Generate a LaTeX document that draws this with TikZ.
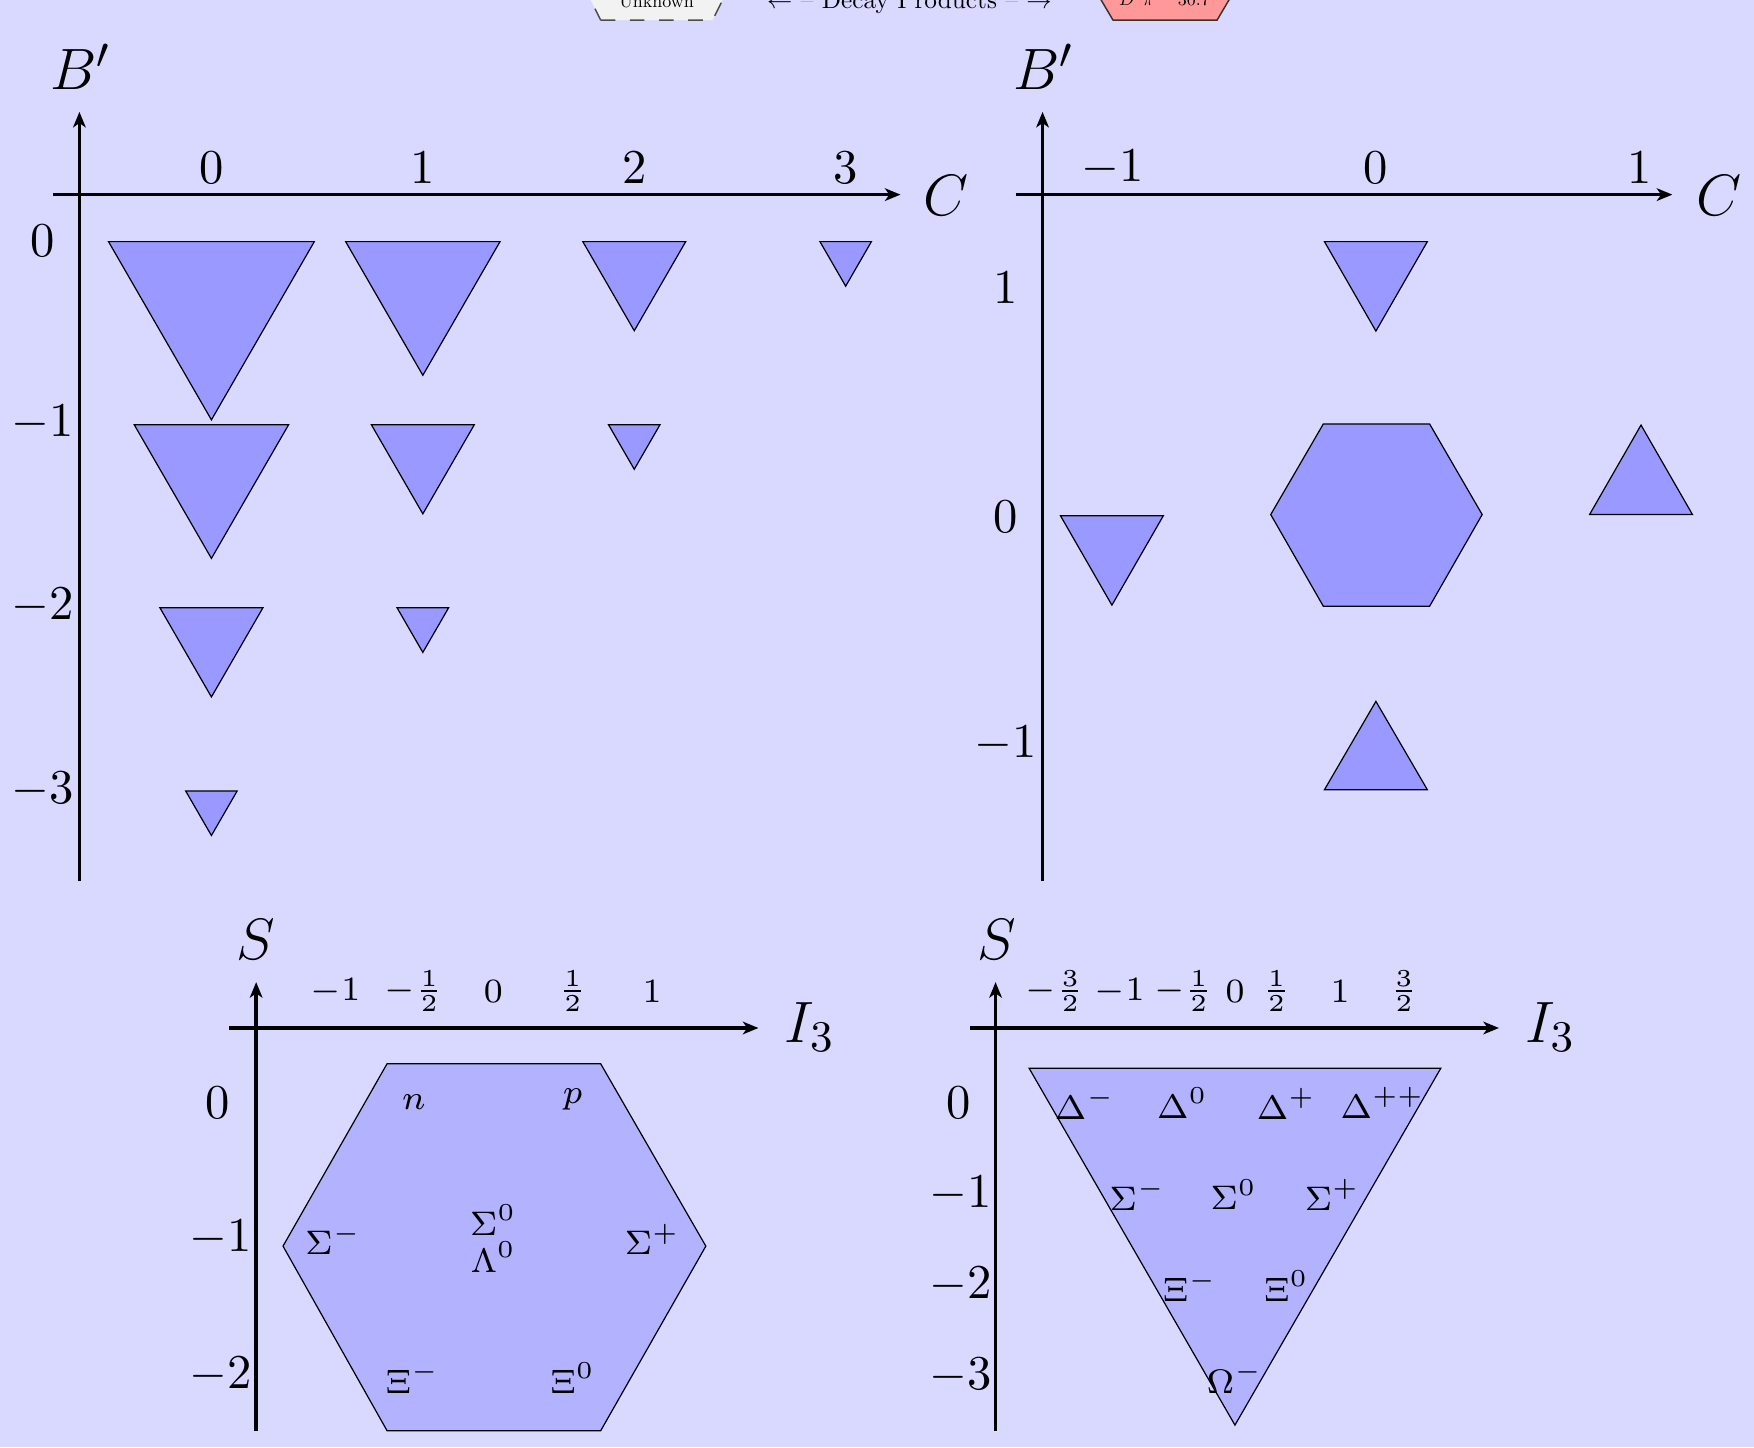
\documentclass[tikz,border=0pt]{standalone}
\usetikzlibrary{arrows.meta}
\begin{document}
\begin{tikzpicture}[x=0.23pt,y=-0.23pt,
  axisline/.style={line width=0.75pt,-{Stealth[length=3.2pt,width=2.6pt,inset=0.9pt]}},
  shapeA/.style={draw=black,line width=0.25pt,fill=blue!40},
  shapeB/.style={draw=black,line width=0.25pt,fill=blue!30},
  ticklbl/.style={font=\fontsize{10}{12}\selectfont,inner sep=0pt},
  smalltick/.style={font=\fontsize{7.5}{9}\selectfont,inner sep=0pt},
  partlbl/.style={font=\fontsize{7.5}{9}\selectfont,inner sep=0pt},
  axislbl/.style={font=\fontsize{13}{15}\selectfont,inner sep=0pt},
  legendtxt/.style={inner sep=0pt,anchor=base}
]
\useasboundingbox (0,0) rectangle (1568,1294);
\fill[blue!15] (0,0) rectangle (1568,1294);
\clip (0,0) rectangle (1568,1294);

% ---------- legend (cut off at top) ----------
\draw[dashed,draw=black!70,line width=0.3pt,fill=black!5]
  (537,18) -- (637,18) -- (648,-4) -- (637,-26) -- (537,-26) -- (526,-4) -- cycle;
\node[legendtxt] (unk) at (587,7) {\scalebox{0.37}{Unknown}};
\node[legendtxt] (decay) at (813,7.5)
  {\scalebox{0.52}{$\leftarrow$ \textcolor{black!40}{--} Decay Products \textcolor{black!40}{--} $\rightarrow$}};
\draw[draw=black!80,line width=0.3pt,fill=red!40]
  (995,18) -- (1088,18) -- (1101,-4) -- (1088,-26) -- (995,-26) -- (982,-4) -- cycle;
\node[legendtxt] (dpi) at (1041,5) {\scalebox{0.37}{$D^{*}\pi$ \quad 30.7}};

% ---------- top-left panel ----------
\coordinate (tlyb) at (71,788); \coordinate (tlyt) at (71,100);
\coordinate (tlxl) at (47,174); \coordinate (tlxr) at (805,174);
\draw[axisline] (tlyb) -- (tlyt);
\draw[axisline] (tlxl) -- (tlxr);
\node[axislbl] (tlB) at (72,60) {$B'$};
\node[axislbl] (tlC) at (846,175) {$C$};
\foreach \c in {0,1,2,3} {
  \node[ticklbl] (tlx\c) at ({189+189*\c},150) {$\c$};
}
\node[ticklbl] (tly0) at (38,215) {$0$};
\node[ticklbl] (tly1) at (38,378) {$-1$};
\node[ticklbl] (tly2) at (38,542) {$-2$};
\node[ticklbl] (tly3) at (38,706) {$-3$};
\foreach \c/\b/\n in {0/0/4,1/0/3,2/0/2,3/0/1,0/-1/3,1/-1/2,2/-1/1,0/-2/2,1/-2/1,0/-3/1} {
  \pgfmathsetmacro\xc{189+189*\c}
  \pgfmathsetmacro\yt{216-163.7*\b}
  \pgfmathsetmacro\sd{46*\n}
  \draw[shapeA] ({\xc-\sd/2},\yt) -- ({\xc+\sd/2},\yt) -- (\xc,{\yt+0.866*\sd}) -- cycle;
}

% ---------- top-right panel ----------
\coordinate (tryb) at (932,788); \coordinate (tryt) at (932,100);
\coordinate (trxl) at (908,174); \coordinate (trxr) at (1495,174);
\draw[axisline] (tryb) -- (tryt);
\draw[axisline] (trxl) -- (trxr);
\node[axislbl] (trB) at (933,60) {$B'$};
\node[axislbl] (trC) at (1537,175) {$C$};
\node[ticklbl] (trxm) at (995,150) {$-1$};
\node[ticklbl] (trx0) at (1230,150) {$0$};
\node[ticklbl] (trxp) at (1466,150) {$1$};
\node[ticklbl] (tryp) at (899,257) {$1$};
\node[ticklbl] (try0) at (899,462) {$0$};
\node[ticklbl] (trym) at (899,665) {$-1$};
\draw[shapeA] (1184,216) -- (1276,216) -- (1230,296) -- cycle;
\draw[shapeA] (1136,460) -- (1183,379) -- (1278,379) -- (1325,460) -- (1278,542) -- (1183,542) -- cycle;
\draw[shapeA] (948,461) -- (1040,461) -- (994,541) -- cycle;
\draw[shapeA] (1421,460) -- (1513,460) -- (1467,380) -- cycle;
\draw[shapeA] (1184,706) -- (1276,706) -- (1230,627) -- cycle;

% ---------- bottom-left panel (baryon octet) ----------
\draw[shapeB] (346,951) -- (537,951) -- (631,1114) -- (537,1279) -- (346,1279) -- (253,1114) -- cycle;
\coordinate (blyb) at (229,1279); \coordinate (blyt) at (229,878);
\coordinate (blxl) at (205,919); \coordinate (blxr) at (678,919);
\draw[axisline] (blyb) -- (blyt);
\draw[axisline] (blxl) -- (blxr);
\node[axislbl] (blS) at (229,840) {$S$};
\node[axislbl] (blI) at (724,918) {$I_3$};
\node[smalltick] (blx1) at (300,886) {$-1$};
\node[smalltick] (blx2) at (370,886) {$-\frac{1}{2}$};
\node[smalltick] (blx3) at (441,886) {$0$};
\node[smalltick] (blx4) at (512,886) {$\frac{1}{2}$};
\node[smalltick] (blx5) at (583,886) {$1$};
\node[ticklbl] (bly0) at (195,986) {$0$};
\node[ticklbl] (bly1) at (197,1107) {$-1$};
\node[ticklbl] (bly2) at (197,1229) {$-2$};
\node[partlbl] (pn) at (370,985) {$n$};
\node[partlbl] (pp) at (512,983) {$p$};
\node[partlbl] (psm) at (298,1108) {$\Sigma^-$};
\node[partlbl] (ps0) at (441,1091) {$\Sigma^0$};
\node[partlbl] (pl0) at (441,1124) {$\Lambda^0$};
\node[partlbl] (psp) at (583,1108) {$\Sigma^+$};
\node[partlbl] (pxm) at (369,1232) {$\Xi^-$};
\node[partlbl] (px0) at (512,1232) {$\Xi^0$};

% ---------- bottom-right panel (baryon decuplet) ----------
\draw[shapeB] (920,955) -- (1288,955) -- (1104,1274) -- cycle;
\coordinate (bryb) at (890,1279); \coordinate (bryt) at (890,878);
\coordinate (brxl) at (867,919); \coordinate (brxr) at (1340,919);
\draw[axisline] (bryb) -- (bryt);
\draw[axisline] (brxl) -- (brxr);
\node[axislbl] (brS) at (891,840) {$S$};
\node[axislbl] (brI) at (1386,918) {$I_3$};
\node[smalltick] (brx1) at (943,886) {$-\frac{3}{2}$};
\node[smalltick] (brx2) at (1001,886) {$-1$};
\node[smalltick] (brx3) at (1058,886) {$-\frac{1}{2}$};
\node[smalltick] (brx4) at (1104,886) {$0$};
\node[smalltick] (brx5) at (1141,886) {$\frac{1}{2}$};
\node[smalltick] (brx6) at (1198,886) {$1$};
\node[smalltick] (brx7) at (1255,886) {$\frac{3}{2}$};
\node[ticklbl] (bry0) at (857,986) {$0$};
\node[ticklbl] (bry1) at (859,1067) {$-1$};
\node[ticklbl] (bry2) at (859,1149) {$-2$};
\node[ticklbl] (bry3) at (859,1230) {$-3$};
\node[partlbl] (dm) at (970,987) {$\Delta^-$};
\node[partlbl] (d0) at (1057,986) {$\Delta^0$};
\node[partlbl] (dp) at (1150,987) {$\Delta^+$};
\node[partlbl] (dpp) at (1236,986) {$\Delta^{++}$};
\node[partlbl] (qsm) at (1017,1068) {$\Sigma^-$};
\node[partlbl] (qs0) at (1103,1068) {$\Sigma^0$};
\node[partlbl] (qsp) at (1191,1068) {$\Sigma^+$};
\node[partlbl] (qxm) at (1064,1150) {$\Xi^-$};
\node[partlbl] (qx0) at (1150,1150) {$\Xi^0$};
\node[partlbl] (qom) at (1104,1232) {$\Omega^-$};
\end{tikzpicture}
\end{document}
